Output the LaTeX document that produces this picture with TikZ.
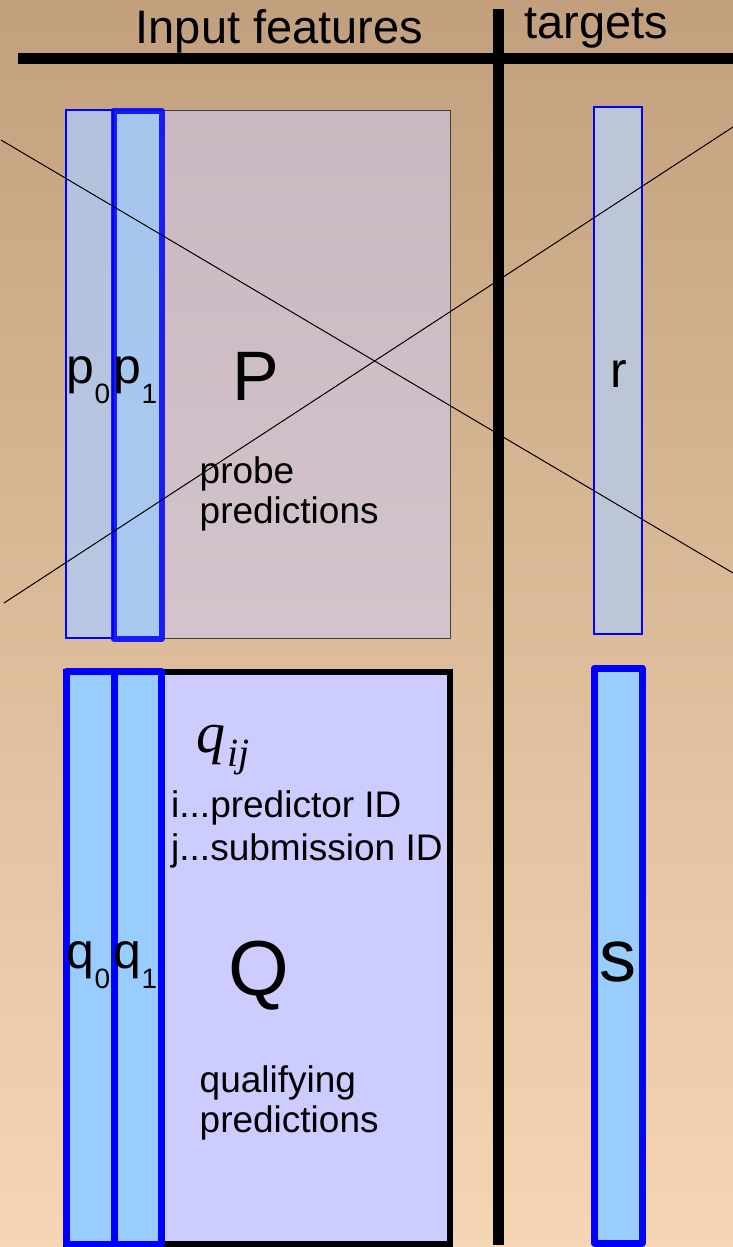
\documentclass[tikz,border=0pt]{standalone}
\usepackage{fontspec}
\setmainfont{Liberation Sans}
\newfontfamily\tmsfont{Liberation Serif}
\newcommand\fsz[1]{\fontsize{#1}{#1}\selectfont}
\newcommand\lowsub[1]{\raisebox{-20pt}{\fsz{28}#1}}
\definecolor{bgtop}{RGB}{194,160,126}
\definecolor{bgmid}{RGB}{228,194,160}
\definecolor{bgbot}{RGB}{245,214,180}
\definecolor{lav}{RGB}{204,204,255}
\definecolor{lblue}{RGB}{153,204,255}
\definecolor{rfill}{RGB}{188,198,214}
\definecolor{pure}{RGB}{0,0,255}
\tikzset{
  txt/.style={anchor=base west, inner sep=0pt, text=black},
  thinbar/.style={draw=pure, line width=1.2pt},
  thickbar/.style={draw=pure, line width=7pt, fill=lblue, line join=round},
  rule/.style={draw=black, line width=11pt},
  cross/.style={draw=black, line width=1pt},
}
\begin{document}
\begin{tikzpicture}[x=1pt,y=-1pt]
\useasboundingbox (0,0) rectangle (733,1247);
\shade[top color=bgtop, middle color=bgmid, bottom color=bgbot] (0,0) rectangle (733,1247);
% probe block
\draw[draw=black!75, line width=1pt, fill=lav, fill opacity=0.5] (66,110) rectangle (450,638);
\draw[thinbar, fill=lblue, fill opacity=0.45] (66,110) rectangle (113,638);
\draw[draw=pure, draw opacity=0.85, line width=6pt, line join=round, fill=lblue, fill opacity=0.7] (113.5,110.5) rectangle (161.5,638.5);
\draw[thinbar, fill=rfill] (594,107) rectangle (642,634);
% qualifying block
\draw[draw=black, line width=6pt, fill=lav] (66,671.5) rectangle (450,1244);
\draw[thickbar] (66.5,671.5) rectangle (114.5,1244);
\draw[thickbar] (114.5,671.5) rectangle (161.5,1244);
\draw[thickbar] (594.5,668) rectangle (642,1243);
% rules
\coordinate (hl) at (18,58.5);
\coordinate (hr) at (733,58.5);
\coordinate (vt) at (498,9);
\coordinate (vb) at (498,1245);
\draw[rule] (hl) -- (hr);
\draw[rule] (vt) -- (vb);
% cross
\coordinate (x1a) at (1,140);
\coordinate (x1b) at (733,573);
\coordinate (x2a) at (4,603);
\coordinate (x2b) at (733,127);
\draw[cross] (x1a) -- (x1b);
\draw[cross] (x2a) -- (x2b);
% texts
\node[txt, font=\fsz{47}] (tin) at (135.5,44) {Input features};
\node[txt, font=\fsz{47}] (ttg) at (524,39) {targets};
\node[txt, font=\fsz{50}] (tp0) at (66.7,383) {p\lowsub{0}};
\node[txt, font=\fsz{50}] (tp1) at (113.5,383) {p\lowsub{1}};
\node[txt, font=\fsz{70}] (tP) at (232.6,400) {P};
\node[txt, font=\fsz{37}] (tprobe) at (199.5,483) {probe};
\node[txt, font=\fsz{37}] (tpred) at (199.5,523) {predictions};
\node[anchor=base, inner sep=0pt, font=\fsz{50}] (tr) at (618.5,387) {r};
\node[txt, font=\tmsfont\itshape\fsz{58}] (tq) at (196,752) {q\hspace{2pt}\raisebox{-14pt}{\fsz{40}ij}};
\node[txt, font=\fsz{37}] (ti) at (171,817) {i...predictor ID};
\node[txt, font=\fsz{37}] (tj) at (171,860) {j...submission ID};
\node[txt, font=\fsz{50}] (tq0) at (66.7,968) {q\lowsub{0}};
\node[txt, font=\fsz{50}] (tq1) at (113.5,968) {q\lowsub{1}};
\node[txt, font=\fsz{78}] (tQ) at (228,995) {Q};
\node[txt, font=\fsz{37}] (tqual) at (199.5,1092) {qualifying};
\node[txt, font=\fsz{37}] (tqpred) at (199.5,1132) {predictions};
\node[anchor=base, inner sep=0pt, font=\fsz{74}] (ts) at (618,981) {s};
\end{tikzpicture}
\end{document}
